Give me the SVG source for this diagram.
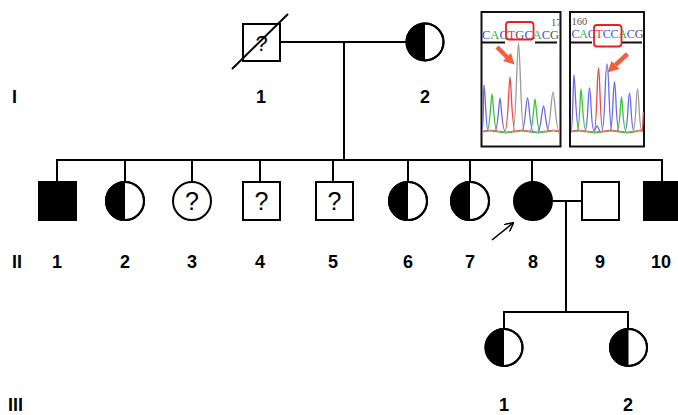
<svg xmlns="http://www.w3.org/2000/svg" width="678" height="415" viewBox="0 0 678 415">
<defs>
<style>
.ln{stroke:#000;stroke-width:2;fill:none}
.sym{stroke:#000;stroke-width:2;fill:#fff}
.aff{stroke:#000;stroke-width:2;fill:#000}
.lbl{font-family:"Liberation Sans",Arial,sans-serif;font-weight:bold;font-size:18px;text-anchor:middle;fill:#000}
.gen{font-family:"Liberation Sans",Arial,sans-serif;font-weight:bold;font-size:18px;fill:#000}
.q{font-family:"Liberation Sans",Arial,sans-serif;font-size:25px;text-anchor:middle;fill:#000}
.b{font-family:"Liberation Serif","Times New Roman",serif;font-size:12.5px}
.pk{fill:none;stroke-width:1.3}
.blue{fill:#4a4ae8}.green{fill:#2fb52f}.red{fill:#e83030}.gray{fill:#555}
.pblue{stroke:#6a6ae8}.pgreen{stroke:#3ac23a}.pred{stroke:#f04848}.pgray{stroke:#9a9a9a}
.rarr{fill:#f06040}
</style>
<marker id="ah" viewBox="0 0 10 10" refX="9" refY="5" markerWidth="9" markerHeight="9" orient="auto" markerUnits="userSpaceOnUse">
<path d="M0,0 L10,5 L0,10" fill="none" stroke="#000" stroke-width="1.6"/>
</marker>
<clipPath id="c1"><rect x="482" y="13" width="78" height="133"/></clipPath>
<clipPath id="c2"><rect x="571" y="13" width="72" height="133"/></clipPath>
</defs>
<rect width="678" height="415" fill="#fff"/>

<!-- generation labels -->
<text class="gen" x="12" y="103">I</text>
<text class="gen" x="12" y="268">II</text>
<text class="gen" x="8" y="411">III</text>

<g id="connectors">
<line class="ln" x1="280" y1="42" x2="407" y2="42"/>
<line class="ln" x1="344" y1="42" x2="344" y2="160"/>
<line class="ln" x1="56" y1="160" x2="662" y2="160"/>
<line class="ln" x1="57" y1="159" x2="57" y2="182"/>
<line class="ln" x1="125" y1="159" x2="125" y2="182"/>
<line class="ln" x1="192" y1="159" x2="192" y2="182"/>
<line class="ln" x1="260" y1="159" x2="260" y2="182"/>
<line class="ln" x1="333" y1="159" x2="333" y2="182"/>
<line class="ln" x1="408" y1="159" x2="408" y2="182"/>
<line class="ln" x1="470" y1="159" x2="470" y2="182"/>
<line class="ln" x1="532" y1="159" x2="532" y2="182"/>
<line class="ln" x1="662" y1="159" x2="662" y2="182"/>
<line class="ln" x1="552" y1="201" x2="582" y2="201"/>
<line class="ln" x1="566" y1="201" x2="566" y2="312"/>
<line class="ln" x1="503" y1="312" x2="629" y2="312"/>
<line class="ln" x1="504" y1="311" x2="504" y2="329"/>
<line class="ln" x1="628" y1="311" x2="628" y2="329"/>
<line x1="492" y1="240" x2="513" y2="223" stroke="#000" stroke-width="1.6" marker-end="url(#ah)"/>
</g>

<!-- Generation I -->
<g id="I-1">
<rect class="sym" x="243" y="24" width="37" height="37"/>
<text class="q" x="261.5" y="51" style="font-size:22px">?</text>
<line class="ln" x1="232" y1="69" x2="288" y2="14"/>
<text class="lbl" x="261" y="103">1</text>
</g>
<g id="I-2">
<circle class="sym" cx="425" cy="42" r="18.5"/>
<path d="M425,23.5 A18.5,18.5 0 0 0 425,60.5 Z" fill="#000"/>
<circle class="ln" cx="425" cy="42" r="18.5"/>
<text class="lbl" x="425" y="103">2</text>
</g>

<!-- Generation II -->
<g id="II-1">
<rect class="aff" x="39" y="182" width="37" height="38"/>
<text class="lbl" x="57" y="268">1</text>
</g>
<g id="II-2">
<circle class="sym" cx="125" cy="201" r="19"/>
<path d="M125,182 A19,19 0 0 0 125,220 Z" fill="#000"/>
<circle class="ln" cx="125" cy="201" r="19"/>
<text class="lbl" x="125" y="268">2</text>
</g>
<g id="II-3">
<circle class="sym" cx="192" cy="201" r="19"/>
<text class="q" x="192" y="210">?</text>
<text class="lbl" x="192" y="268">3</text>
</g>
<g id="II-4">
<rect class="sym" x="243" y="182" width="37" height="38"/>
<text class="q" x="261.5" y="210">?</text>
<text class="lbl" x="260" y="268">4</text>
</g>
<g id="II-5">
<rect class="sym" x="316" y="182" width="37" height="38"/>
<text class="q" x="334.5" y="210">?</text>
<text class="lbl" x="333" y="268">5</text>
</g>
<g id="II-6">
<circle class="sym" cx="408" cy="201" r="19"/>
<path d="M408,182 A19,19 0 0 0 408,220 Z" fill="#000"/>
<circle class="ln" cx="408" cy="201" r="19"/>
<text class="lbl" x="408" y="268">6</text>
</g>
<g id="II-7">
<circle class="sym" cx="470" cy="201" r="19"/>
<path d="M470,182 A19,19 0 0 0 470,220 Z" fill="#000"/>
<circle class="ln" cx="470" cy="201" r="19"/>
<text class="lbl" x="470" y="268">7</text>
</g>
<g id="II-8">
<circle class="aff" cx="533" cy="201" r="19"/>
<text class="lbl" x="533" y="268">8</text>
</g>
<g id="II-9">
<rect class="sym" x="582" y="182" width="37" height="38"/>
<text class="lbl" x="600" y="268">9</text>
</g>
<g id="II-10">
<rect class="aff" x="644" y="182" width="37" height="38"/>
<text class="lbl" x="661" y="268">10</text>
</g>

<!-- Generation III -->
<g id="III-1">
<circle class="sym" cx="504" cy="347.5" r="18.5"/>
<path d="M504,329 A18.5,18.5 0 0 0 504,366 Z" fill="#000"/>
<circle class="ln" cx="504" cy="347.5" r="18.5"/>
<text class="lbl" x="504" y="411">1</text>
</g>
<g id="III-2">
<circle class="sym" cx="628.5" cy="347.5" r="18.5"/>
<path d="M628.5,329 A18.5,18.5 0 0 0 628.5,366 Z" fill="#000"/>
<circle class="ln" cx="628.5" cy="347.5" r="18.5"/>
<text class="lbl" x="628" y="411">2</text>
</g>

<!-- Chromatogram 1 -->
<g id="chromatogram-1">
<rect x="481.5" y="12" width="79" height="134.5" fill="#fff" stroke="#111" stroke-width="2"/>
<g clip-path="url(#c1)">
<text class="b" x="551" y="26" fill="#555" style="font-size:10.5px">17</text>
<text class="b" x="482" y="38.5"><tspan class="blue">C</tspan><tspan class="green">A</tspan><tspan class="blue">C</tspan><tspan class="red">T</tspan><tspan class="gray">G</tspan><tspan class="blue">C</tspan><tspan class="green">A</tspan><tspan class="blue">C</tspan><tspan class="gray">G</tspan></text>
</g>
<line x1="482" y1="42.5" x2="505" y2="42.5" stroke="#111" stroke-width="2"/>
<line x1="535" y1="42.5" x2="557" y2="42.5" stroke="#111" stroke-width="2"/>
<rect x="506" y="22" width="27.5" height="17.5" rx="3" fill="none" stroke="#e82020" stroke-width="1.8"/>
<line x1="497" y1="47" x2="508" y2="58" stroke="#f06040" stroke-width="4.5"/>
<polygon class="rarr" points="511,53 503,61 514.5,64.5"/>
<path class="pk pblue" d="M482,131 C484,131 483,85 484,85 C485,85 486,131 488,131"/>
<path class="pk pgreen" d="M487,131 C490,131 491,94 492,94 C493,94 494,131 497,131"/>
<path class="pk pblue" d="M495,131 C498,131 499,98 500,98 C501,98 502,131 505,131"/>
<path class="pk pred" d="M505,131 C508,131 509,77 510,77 C511,77 512,131 515,131"/>
<path class="pk pgray" d="M513,131 C516,131 517,43 518.5,43 C520,43 521,131 524,131"/>
<path class="pk pblue" d="M522,131 C525,131 526,98 527.5,98 C529,98 530,131 533,131"/>
<path class="pk pgreen" d="M530,131 C533,131 534,99 535,99 C536,99 537,131 540,131"/>
<path class="pk pblue" d="M538,131 C541,131 542,106 543.5,106 C545,106 546,131 549,131"/>
<path class="pk pgray" d="M547,131 C550,131 551.5,92 553,92 C554.5,92 556,131 559,131"/>
<path d="M482,131 Q490,129 498,131 T514,131 T530,131 T546,131 T560,131" fill="none" stroke="#f06060" stroke-width="1"/>
<path d="M482,132 Q490,130 498,132 T514,132 T530,132 T546,132 T560,132" fill="none" stroke="#40b040" stroke-width="1"/>
</g>

<!-- Chromatogram 2 -->
<g id="chromatogram-2">
<rect x="570" y="12" width="74" height="134.5" fill="#fff" stroke="#111" stroke-width="2"/>
<g clip-path="url(#c2)">
<text class="b" x="571.5" y="24.5" fill="#555" style="font-size:10.5px">160</text>
<text class="b" x="571.5" y="38" style="font-size:12px;letter-spacing:-0.2px"><tspan class="blue">C</tspan><tspan class="green">A</tspan><tspan class="blue">C</tspan><tspan class="red">T</tspan><tspan class="blue">C</tspan><tspan class="blue">C</tspan><tspan class="green">A</tspan><tspan class="blue">C</tspan><tspan class="gray">G</tspan></text>
</g>
<line x1="571" y1="42.5" x2="592" y2="42.5" stroke="#111" stroke-width="2"/>
<line x1="622" y1="42.5" x2="642" y2="42.5" stroke="#111" stroke-width="2"/>
<rect x="594" y="25" width="27.5" height="21.5" rx="3" fill="none" stroke="#e82020" stroke-width="1.8"/>
<line x1="627.5" y1="54" x2="615.5" y2="65" stroke="#f06040" stroke-width="4.5"/>
<polygon class="rarr" points="619.5,69 611.5,61 607.5,72.5"/>
<path class="pk pblue" d="M571,131 C573,131 573,75 574,75 C575,75 576,131 579,131"/>
<path class="pk pgreen" d="M577,131 C580,131 580,89 581,89 C582,89 583,131 586,131"/>
<path class="pk pblue" d="M585,131 C588,131 588,88 589.5,88 C591,88 591,131 594,131"/>
<path class="pk pred" d="M594,131 C597,131 597,68 598.5,68 C600,68 600,131 603,131"/>
<path class="pk pblue" d="M602,131 C605,131 605,64 607,64 C609,64 609,131 612,131"/>
<path class="pk pblue" d="M610,131 C613,131 613,82 614.5,82 C616,82 616,131 619,131"/>
<path class="pk pgreen" d="M617,131 C620,131 620.5,97 621.5,97 C622.5,97 623,131 626,131"/>
<path class="pk pblue" d="M625,131 C628,131 628,93 629.5,93 C631,93 631,131 634,131"/>
<path class="pk pgray" d="M633,131 C636,131 636,89 637.5,89 C639,89 639,131 642,131"/>
<path class="pk pred" d="M642,131 C643,131 643,115 643.5,112"/>
<path class="pk pblue" d="M594,131 C595,131 596,126 597,126 C598,126 599,131 600,131"/>
<path d="M571,131 Q579,129 587,131 T603,131 T619,131 T635,131 T643,131" fill="none" stroke="#f06060" stroke-width="1"/>
<path d="M571,132 Q579,130 587,132 T603,132 T619,132 T635,132 T643,132" fill="none" stroke="#40b040" stroke-width="1"/>
</g>
</svg>
